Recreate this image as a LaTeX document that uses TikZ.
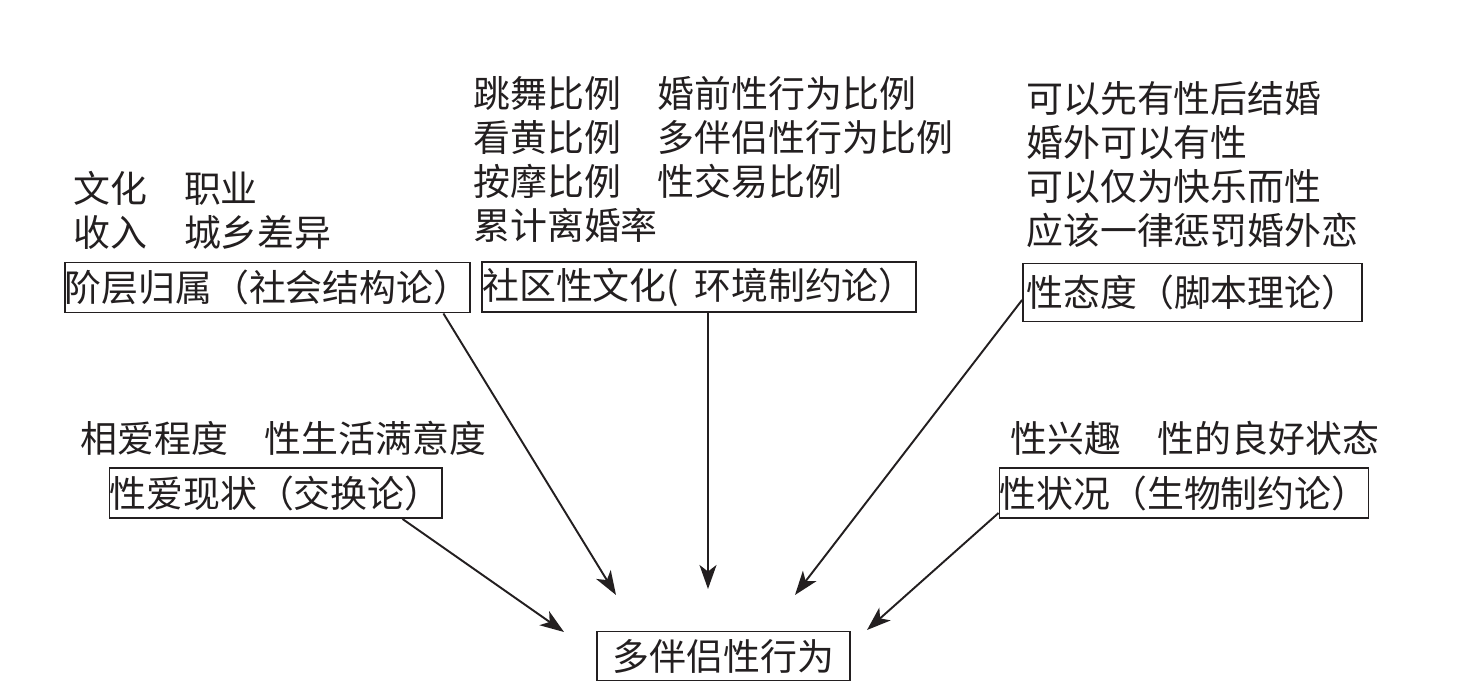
\documentclass[tikz,border=0pt]{standalone}
\usepackage{fontspec}
\usepackage{xcolor}
\usetikzlibrary{arrows.meta}
\newfontfamily\cjk{Noto Sans CJK SC}
\definecolor{Ink}{HTML}{231F20}
\tikzset{
  cn/.style={font=\cjk\fontsize{21}{25}\selectfont, text=Ink},
  note/.style={cn, anchor=north west, inner sep=0pt, align=left},
  theory/.style={cn, draw=Ink, line width=1.1pt, inner xsep=0pt, inner ysep=0pt, minimum height=1cm},
  cause/.style={Ink, line width=1.1pt, -{Stealth[length=4.8mm,width=3.4mm,inset=1.3mm]}}
}

\begin{document}
\begin{tikzpicture}[x=0.02cm,y=-0.02cm]
    \useasboundingbox (0,0) rectangle (1467,689);
    \node[note] (classnote) at (73,171) {文化　职业\\收入　城乡差异};
    \node[note] (culturenote) at (473,76) {跳舞比例　婚前性行为比例\\看黄比例　多伴侣性行为比例\\按摩比例　性交易比例\\累计离婚率};
    \node[note] (attitudenote) at (1026,81) {可以先有性后结婚\\婚外可以有性\\可以仅为快乐而性\\应该一律惩罚婚外恋};
    \node[note] (lovenote) at (80,421) {相爱程度　性生活满意度};
    \node[note] (statenote) at (1010,421) {性兴趣　性的良好状态};
    \node[theory, minimum width=8.02cm] (class) at (267.5,287.5) {阶层归属（社会结构论）};
    \node[theory, minimum width=8.36cm] (culture) at (699,287) {社区性文化\makebox[0.75em][l]{(}环境制约论）};
    \node[theory, minimum width=6.78cm, minimum height=1.16cm] (attitude) at (1192.5,292.5) {性态度（脚本理论）};
    \node[theory, minimum width=6.5cm] (love) at (275.5,493) {性爱现状（交换论）};
    \node[theory, minimum width=7.24cm] (state) at (1184,493) {性状况（生物制约论）};
    \node[theory, minimum width=5.06cm, minimum height=0.98cm] (multi) at (723.5,656) {多伴侣性行为};
    \coordinate (tipclass) at (616,595);
    \coordinate (tipculture) at (708,589);
    \coordinate (tipattitude) at (795,595);
    \coordinate (tiplove) at (564,632);
    \coordinate (tipstate) at (867,630);
    \draw[cause] ([xshift=-0.56cm]class.south east) -- (tipclass);
    \draw[cause] ([xshift=0.18cm]culture.south) -- (tipculture);
    \draw[cause] ([yshift=-0.15cm]attitude.west) -- (tipattitude);
    \draw[cause] ([xshift=-0.8cm]love.south east) -- (tiplove);
    \draw[cause] ([yshift=0.12cm]state.south west) -- (tipstate);
\end{tikzpicture}
\end{document}
